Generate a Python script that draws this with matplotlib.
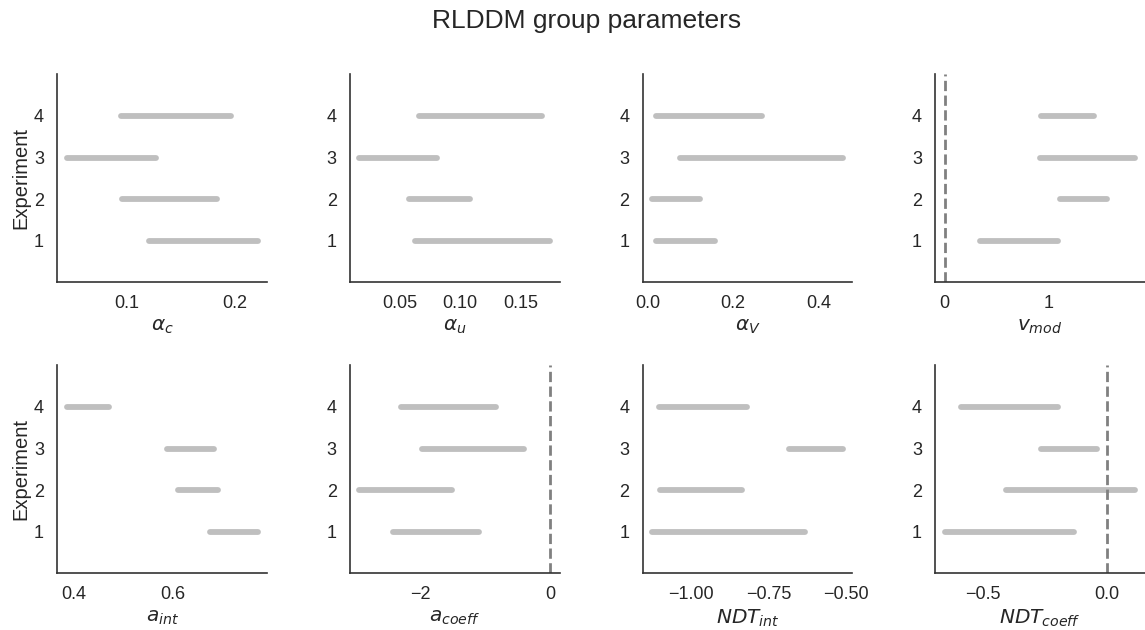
import numpy as np
import matplotlib
matplotlib.use('Agg')
import matplotlib.pyplot as plt
import seaborn as sns

sns.set_style('white')
plt.rcParams['font.family'] = ['Liberation Sans', 'DejaVu Sans']
plt.rcParams['text.color'] = '#262626'
plt.rcParams['axes.labelcolor'] = '#262626'
plt.rcParams['xtick.color'] = '#262626'
plt.rcParams['ytick.color'] = '#262626'

# Experimentos (eje y)
experiments = [1, 2, 3, 4]

# Etiquetas de cada parametro
param_labels = [r'$\alpha_c$', r'$\alpha_u$', r'$\alpha_V$', r'$v_{mod}$',
                r'$a_{int}$', r'$a_{coeff}$', r'$NDT_{int}$', r'$NDT_{coeff}$']

# Intervalos (limite inferior, limite superior) por experimento 1..4
alpha_c_low = [0.121, 0.096, 0.045, 0.095]
alpha_c_high = [0.221, 0.184, 0.127, 0.197]
alpha_u_low = [0.063, 0.058, 0.017, 0.066]
alpha_u_high = [0.174, 0.108, 0.081, 0.167]
alpha_v_low = [0.020, 0.011, 0.077, 0.021]
alpha_v_high = [0.157, 0.122, 0.457, 0.267]
v_mod_low = [0.343, 1.112, 0.913, 0.930]
v_mod_high = [1.087, 1.561, 1.834, 1.440]
a_int_low = [0.676, 0.611, 0.589, 0.385]
a_int_high = [0.773, 0.692, 0.685, 0.470]
a_coeff_low = [-2.43, -2.95, -1.98, -2.30]
a_coeff_high = [-1.10, -1.52, -0.41, -0.84]
ndt_int_low = [-1.127, -1.101, -0.684, -1.104]
ndt_int_high = [-0.632, -0.837, -0.509, -0.820]
ndt_coeff_low = [-0.655, -0.408, -0.266, -0.589]
ndt_coeff_high = [-0.133, 0.117, -0.038, -0.198]

lows = [alpha_c_low, alpha_u_low, alpha_v_low, v_mod_low,
        a_int_low, a_coeff_low, ndt_int_low, ndt_coeff_low]
highs = [alpha_c_high, alpha_u_high, alpha_v_high, v_mod_high,
         a_int_high, a_coeff_high, ndt_int_high, ndt_coeff_high]
# Parametros con linea de referencia en cero
zero_line = [False, False, False, True, False, True, False, True]

fig, axes = plt.subplots(2, 4, figsize=(11.45, 6.3), dpi=100)
fig.subplots_adjust(left=0.05, right=1.0, top=0.882, bottom=0.09,
                    wspace=0.395, hspace=0.4)

for i, ax in enumerate(axes.flat):
    for e, lo, hi in zip(experiments, lows[i], highs[i]):
        ax.plot([lo, hi], [e, e], color='#bfbfbf', lw=4.2,
                solid_capstyle='round')
    if zero_line[i]:
        ax.plot([0, 0], [0, 5], color='#808080', lw=2, ls='--')
    ax.set_ylim(0, 5)
    ax.set_yticks(experiments)
    ax.set_xlabel(param_labels[i], fontsize=14.5, labelpad=3)
    ax.tick_params(labelsize=13, length=0, pad=9.5)
    if i % 4 == 0:
        ax.set_ylabel('Experiment', fontsize=14.5, labelpad=3)
    for s in ['left', 'bottom']:
        ax.spines[s].set_color('#333333')
        ax.spines[s].set_linewidth(1.2)
    sns.despine(ax=ax)

axes[0, 0].set_xticks([0.1, 0.2])
axes[0, 1].set_xticks([0.05, 0.10, 0.15])
axes[0, 2].set_xticks([0.0, 0.2, 0.4])
axes[0, 3].set_xticks([0, 1])
axes[1, 0].set_xticks([0.4, 0.6])
axes[1, 1].set_xticks([-2, 0])
axes[1, 2].set_xticks([-1.00, -0.75, -0.50])
axes[1, 3].set_xticks([-0.5, 0.0])

fig.suptitle('RLDDM group parameters', fontsize=19, x=0.512, y=0.985)
fig.savefig('out.png', dpi=100)
